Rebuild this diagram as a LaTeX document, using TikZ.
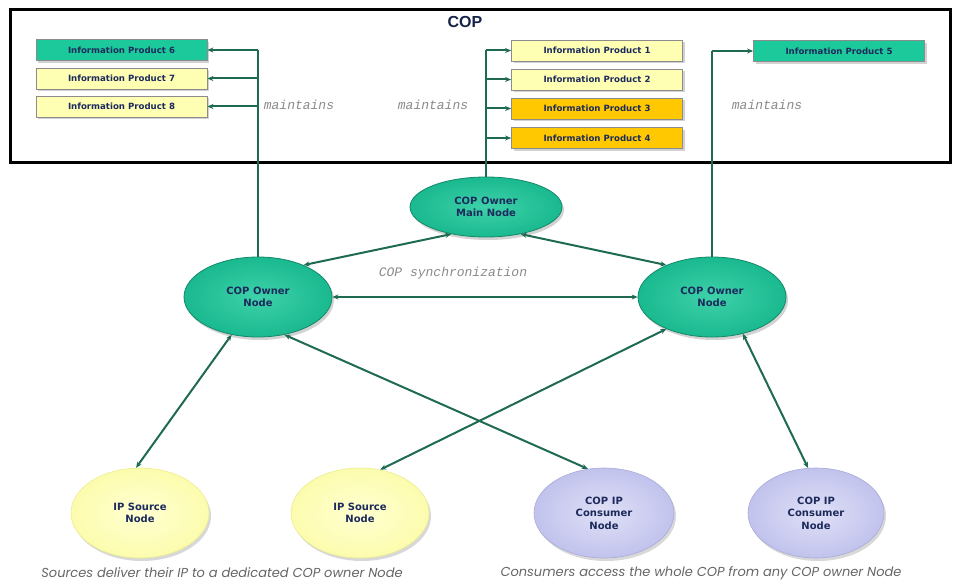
\documentclass[tikz,border=0pt]{standalone}
\usepackage{fontspec}
\setmainfont{Liberation Sans}
\newfontfamily\monof{Liberation Mono}
\newfontfamily\boldf{DejaVu Sans}
\newfontfamily\captf{Poppins}
\usetikzlibrary{shapes.geometric,arrows.meta,shadows}
\definecolor{teal1}{HTML}{1CC99B}
\definecolor{tealdk}{HTML}{12896A}
\definecolor{lyel}{HTML}{FFFFB4}
\definecolor{yelrim}{HTML}{EDED8C}
\definecolor{gold1}{HTML}{FFC800}
\definecolor{lav}{HTML}{C6C7F0}
\definecolor{lavrim}{HTML}{A9AADA}
\definecolor{conn}{HTML}{1E6A52}
\definecolor{navy}{HTML}{1C2A5C}
\definecolor{txtgray}{HTML}{8A8A8A}
\tikzset{
  ipbox/.style={rectangle, draw=black!45, line width=0.8pt, minimum width=171pt, minimum height=21pt, inner sep=0pt,
    font=\boldf\bfseries\fontsize{8.6}{9}\selectfont, text=navy, drop shadow={shadow xshift=2pt, shadow yshift=-2.5pt, opacity=0.35}},
  ownernode/.style={ellipse, draw=tealdk, line width=0.8pt, inner color=teal1!85!white, outer color=teal1!92!black, inner sep=0pt, align=center,
    font=\boldf\bfseries\fontsize{10}{12.5}\selectfont, text=navy, drop shadow={shadow xshift=2pt, shadow yshift=-3pt, opacity=0.35}},
  botnode/.style={ellipse, line width=0.6pt, inner sep=0pt, align=center, minimum width=138pt, minimum height=90pt,
    font=\boldf\bfseries\fontsize{10}{12.5}\selectfont, text=navy, drop shadow={shadow xshift=2pt, shadow yshift=-3pt, opacity=0.3}},
  conline/.style={draw=conn, line width=2pt},
  dbl/.style={conline, {Stealth[length=6pt,width=5pt]}-{Stealth[length=6pt,width=5pt]}},
  single/.style={conline, -{Stealth[length=6pt,width=5pt]}},
  lbl/.style={font=\monof\itshape\fontsize{13}{14}\selectfont, text=txtgray},
  capt/.style={font=\captf\itshape\fontsize{13}{15}\selectfont, text=black!60}
}
\begin{document}
\begin{tikzpicture}[x=1pt,y=-1pt]
\useasboundingbox (0,0) rectangle (955,583);
\fill[white] (0,0) rectangle (955,583);
% frame
\draw[line width=3pt] (10,10) rectangle (950,162);
\node[font=\bfseries\fontsize{16}{18}\selectfont, text=navy!80!black] (title) at (465,22) {COP};
% info products
\node[ipbox, fill=teal1] (p6) at (121.5,50) {Information Product 6};
\node[ipbox, fill=lyel] (p7) at (121.5,78.5) {Information Product 7};
\node[ipbox, fill=lyel] (p8) at (121.5,106.5) {Information Product 8};
\node[ipbox, fill=lyel] (p1) at (597,50.5) {Information Product 1};
\node[ipbox, fill=lyel] (p2) at (597,79.5) {Information Product 2};
\node[ipbox, fill=gold1] (p3) at (597,108.5) {Information Product 3};
\node[ipbox, fill=gold1] (p4) at (597,138) {Information Product 4};
\node[ipbox, fill=teal1] (p5) at (839,51) {Information Product 5};
% labels
\node[lbl] (m1) at (299,105) {maintains};
\node[lbl] (m2) at (433,105) {maintains};
\node[lbl] (m3) at (767,105) {maintains};
% owner nodes
\node[ownernode, minimum width=152pt, minimum height=60pt] (main) at (486,207) {COP Owner\\Main Node};
\node[ownernode, minimum width=148pt, minimum height=80pt] (ownL) at (258,297) {COP Owner\\Node};
\node[ownernode, minimum width=148pt, minimum height=80pt] (ownR) at (712,297) {COP Owner\\Node};
\node[lbl] (sync) at (453,273) {COP synchronization};
% bottom nodes
\node[botnode, draw=yelrim, inner color=lyel!60!white, outer color=lyel!85!yelrim] (src1) at (140,513) {IP Source\\Node};
\node[botnode, draw=yelrim, inner color=lyel!60!white, outer color=lyel!85!yelrim] (src2) at (360,513) {IP Source\\Node};
\node[botnode, draw=lavrim, inner color=lav!55!white, outer color=lav!85!lavrim, minimum width=140pt] (con1) at (604,513) {COP IP\\Consumer\\Node};
\node[botnode, draw=lavrim, inner color=lav!55!white, outer color=lav!85!lavrim, minimum width=136pt] (con2) at (816,513) {COP IP\\Consumer\\Node};
% captions
\node[capt] (c1) at (222,573) {Sources deliver their IP to a dedicated COP owner Node};
\node[capt] (c2) at (701,573) {Consumers access the whole COP from any COP owner Node};
% maintains connectors
\coordinate (jL) at (258,50);
\coordinate (jM) at (486,50);
\draw[conline] (ownL.north) -- (ownL.north |- jL);
\draw[single] (ownL.north |- p6.east) -- (p6.east);
\draw[single] (ownL.north |- p7.east) -- (p7.east);
\draw[single] (ownL.north |- p8.east) -- (p8.east);
\draw[conline] (main.north) -- (main.north |- jM);
\draw[single] (main.north |- p1.west) -- (p1.west);
\draw[single] (main.north |- p2.west) -- (p2.west);
\draw[single] (main.north |- p3.west) -- (p3.west);
\draw[single] (main.north |- p4.west) -- (p4.west);
\draw[conline] (ownR.north) -- (ownR.north |- p5.west);
\draw[single] (ownR.north |- p5.west) -- (p5.west);
% synchronization
\draw[dbl] (main.218) -- (ownL.35);
\draw[dbl] (main.322) -- (ownR.145);
\draw[dbl] (ownL.east) -- (ownR.west);
% bottom connectors
\draw[dbl] (ownL.235) -- (src1.95);
\draw[dbl] (ownR.215) -- (src2.65);
\draw[dbl] (ownL.305) -- (con1.110);
\draw[dbl] (ownR.310) -- (con2.100);
\end{tikzpicture}
\end{document}
